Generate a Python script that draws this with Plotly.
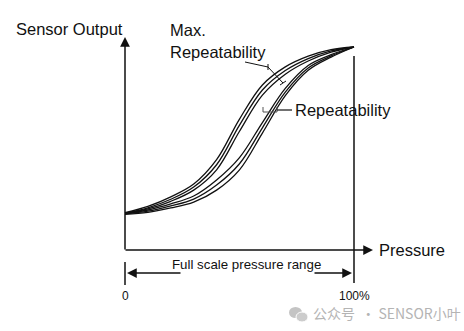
import plotly.graph_objects as go

# Pressure (% of full scale) sample points shared by every curve
pressure = [0, 10, 20, 30, 40, 50, 60, 70, 80, 90, 100]

# Sensor output (% of full scale), decreasing-pressure branch (three repeats)
down_1 = [18.4, 21.5, 26.2, 32.5, 44.5, 64.5, 81.3, 90.2, 95.5, 98.7, 100]
down_2 = [18.2, 20.8, 25.0, 31.0, 42.0, 61.5, 78.8, 88.4, 94.3, 98.1, 100]
down_3 = [18.0, 20.2, 24.0, 29.5, 39.5, 58.5, 76.3, 86.6, 93.1, 97.5, 100]

# Sensor output (% of full scale), increasing-pressure branch (three repeats)
up_1 = [18.0, 19.7, 22.7, 26.6, 34.5, 45.5, 62.8, 79.6, 90.9, 96.2, 100]
up_2 = [17.8, 19.1, 21.7, 25.1, 32.0, 42.5, 60.2, 77.8, 89.7, 95.6, 100]
up_3 = [17.6, 18.5, 20.7, 23.6, 29.5, 39.5, 57.6, 76.0, 88.5, 95.0, 100]

W, H = 464, 331
FONT = "Liberation Sans, Arial, sans-serif"


def px(x):
    return x / W


def py(y):
    return 1 - y / H


fig = go.Figure()
for ys in (down_1, down_2, down_3, up_1, up_2, up_3):
    fig.add_trace(go.Scatter(
        x=pressure, y=ys, mode="lines",
        line=dict(color="#111111", width=1.3, shape="spline", smoothing=1.0),
        hoverinfo="skip", showlegend=False,
    ))

shapes = []
annotations = []


def seg(x0, y0, x1, y1, w=1.5, color="#111111"):
    shapes.append(dict(type="line", xref="paper", yref="paper",
                       x0=px(x0), y0=py(y0), x1=px(x1), y1=py(y1),
                       line=dict(color=color, width=w)))


def arrow(x_tail, y_tail, x_head, y_head, w=1.5):
    annotations.append(dict(
        xref="paper", yref="paper", x=px(x_head), y=py(y_head),
        ax=x_tail - x_head, ay=y_tail - y_head, text="", showarrow=True,
        arrowhead=2, arrowsize=1.3, arrowwidth=w, arrowcolor="#111111",
    ))


def label(x, y, text, size, anchor="left", color="#111111", family=FONT):
    annotations.append(dict(
        xref="paper", yref="paper", x=px(x), y=py(y), text=text,
        showarrow=False, xanchor=anchor, yanchor="middle",
        font=dict(family=family, size=size, color=color),
    ))


# axes with arrowheads
arrow(125, 251, 125, 37)
arrow(124, 250, 373, 250)

# full-scale markers and range arrows
seg(125, 262, 125, 285)
seg(354, 56, 354, 283)
arrow(182, 273, 127, 273)
arrow(313, 273, 352, 273)

# "Max. Repeatability" leader and dimension line
seg(245, 62, 268, 67, w=1)
seg(268, 64, 268, 70, w=1)
seg(268, 67, 283, 83, w=1)
seg(280, 85, 286, 81, w=1)

# "Repeatability" bracket and leader
seg(263, 107, 263, 112, w=1, color="#555555")
seg(263, 112, 277, 112, w=1, color="#555555")
seg(277, 107, 277, 112, w=1, color="#555555")
seg(277, 110, 292, 110, w=1.2)

label(14, 29, "Sensor Output", 16.5)
label(168, 30, "Max.", 16.5)
label(168, 52, "Repeatability", 16.5)
label(293, 110, "Repeatability", 16.5)
label(377, 250, "Pressure", 16.5)
label(246, 264, "Full scale pressure range", 13.3, anchor="center")
label(125, 296, "0", 12, anchor="center")
label(354, 296, "100%", 12, anchor="center")
label(311, 313, "公众号  · SENSOR小叶", 14, color="#b4b4b4",
      family="Noto Sans CJK SC, sans-serif")

# small chat-bubble mark beside the caption
shapes.append(dict(type="circle", xref="paper", yref="paper",
                   x0=px(289), y0=py(318), x1=px(302), y1=py(307),
                   fillcolor="#c4c4c4", line=dict(width=0)))
shapes.append(dict(type="circle", xref="paper", yref="paper",
                   x0=px(296), y0=py(322), x1=px(308), y1=py(312),
                   fillcolor="#cccccc", line=dict(color="white", width=1)))

# data range chosen so 0 % / 100 % land on the axis marks
sx = (354 - 125) / 100.0
sy = (250 - 47) / 100.0
fig.update_xaxes(range=[-125 / sx, (W - 125) / sx], visible=False, fixedrange=True)
fig.update_yaxes(range=[-(H - 250) / sy, 250 / sy], visible=False, fixedrange=True)

fig.update_layout(
    width=W, height=H, margin=dict(l=0, r=0, t=0, b=0),
    paper_bgcolor="white", plot_bgcolor="white",
    shapes=shapes, annotations=annotations,
)

fig.write_html("out.html", config={"displayModeBar": False})
